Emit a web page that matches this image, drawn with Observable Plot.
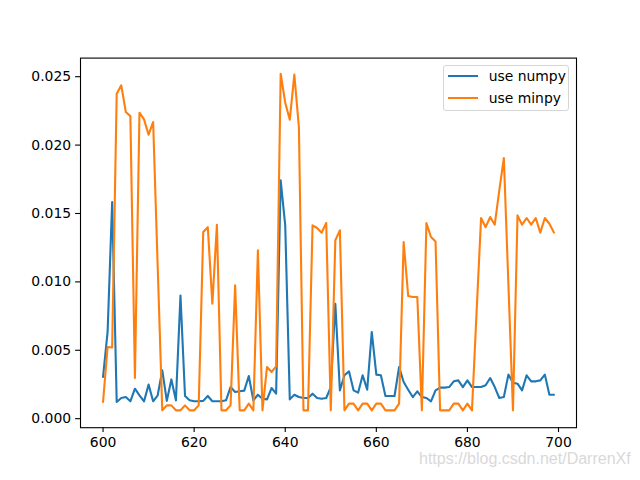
<!DOCTYPE html>
<html>
<head>
<meta charset="utf-8">
<script src="https://cdn.jsdelivr.net/npm/d3@7"></script>
<script src="https://cdn.jsdelivr.net/npm/@observablehq/plot@0.6"></script>
<style>
  body { margin: 0; background: white; }
  #wrap { position: relative; width: 640px; height: 480px; font-family: "DejaVu Sans", sans-serif; }
  #legend { position: absolute; left: 442.7px; top: 65.3px; width: 126.6px; height: 46px; box-sizing: border-box;
            border: 1px solid #d6d6d6; border-radius: 3px; background: rgba(255,255,255,0.8); }
  .lg-line { position: absolute; left: 4px; width: 30px; height: 2px; }
  .lg-text { position: absolute; left: 45px; font-size: 13.9px; line-height: 16px; color: black; white-space: nowrap; }
  #wm { position: absolute; left: 419px; top: 450px; font-family: "Liberation Sans", sans-serif; font-size: 16px; color: #d9d9d9; white-space: nowrap; }
</style>
</head>
<body>
<div id="wrap"></div>
<script>
// ---- data ----
const steps = d3.range(600, 700);
const seriesNames = ["use numpy", "use minpy"];
const seriesColors = ["#1f77b4", "#ff7f0e"];
const numpyTimes = [
  0.00305, 0.00634, 0.01584, 0.00122, 0.00151, 0.00158, 0.00127, 0.00219, 0.00171, 0.00127,
  0.00249, 0.00127, 0.00171, 0.00353, 0.00130, 0.00287, 0.00134, 0.00901, 0.00166, 0.00134,
  0.00127, 0.00127, 0.00130, 0.00166, 0.00127, 0.00127, 0.00127, 0.00134, 0.00231, 0.00195,
  0.00200, 0.00205, 0.00312, 0.00134, 0.00175, 0.00146, 0.00141, 0.00224, 0.00183, 0.01742,
  0.01413, 0.00141, 0.00175, 0.00158, 0.00151, 0.00151, 0.00183, 0.00151, 0.00146, 0.00151,
  0.00231, 0.00840, 0.00207, 0.00317, 0.00346, 0.00207, 0.00190, 0.00317, 0.00212, 0.00634,
  0.00322, 0.00317, 0.00166, 0.00166, 0.00166, 0.00378, 0.00268, 0.00212, 0.00158, 0.00200,
  0.00158, 0.00151, 0.00127, 0.00207, 0.00227, 0.00227, 0.00231, 0.00273, 0.00280, 0.00231,
  0.00280, 0.00231, 0.00231, 0.00231, 0.00244, 0.00297, 0.00231, 0.00151, 0.00158, 0.00322,
  0.00263, 0.00256, 0.00207, 0.00317, 0.00273, 0.00273, 0.00280, 0.00322, 0.00175, 0.00175
];
const minpyTimes = [
  0.00122, 0.00524, 0.00520, 0.02376, 0.02437, 0.02242, 0.02212, 0.00297, 0.02237, 0.02188,
  0.02076, 0.02169, 0.01110, 0.00061, 0.00097, 0.00097, 0.00061, 0.00061, 0.00097, 0.00061,
  0.00061, 0.00097, 0.01365, 0.01400, 0.00840, 0.01418, 0.00061, 0.00061, 0.00097, 0.00975,
  0.00061, 0.00061, 0.00110, 0.00061, 0.01230, 0.00061, 0.00378, 0.00341, 0.00383, 0.02522,
  0.02310, 0.02186, 0.02515, 0.02132, 0.00061, 0.00061, 0.01413, 0.01394, 0.01360, 0.01430,
  0.00061, 0.01304, 0.01377, 0.00061, 0.00110, 0.00110, 0.00061, 0.00110, 0.00110, 0.00061,
  0.00110, 0.00110, 0.00061, 0.00061, 0.00061, 0.00110, 0.01291, 0.00897, 0.00890, 0.00890,
  0.00061, 0.01430, 0.01328, 0.01296, 0.00061, 0.00061, 0.00061, 0.00110, 0.00110, 0.00061,
  0.00110, 0.00061, 0.00770, 0.01467, 0.01400, 0.01474, 0.01418, 0.01669, 0.01906, 0.00980,
  0.00061, 0.01486, 0.01418, 0.01467, 0.01418, 0.01467, 0.01360, 0.01467, 0.01425, 0.01360
];
const xTicks = [600, 620, 640, 660, 680, 700];
const yTicks = [0, 0.005, 0.010, 0.015, 0.020, 0.025];
const watermark = "https://blog.csdn.net/DarrenXf";

// ---- build ----
const numpyData = steps.map((s, i) => ({step: s, t: numpyTimes[i]}));
const minpyData = steps.map((s, i) => ({step: s, t: minpyTimes[i]}));

const chart = Plot.plot({
  width: 640,
  height: 480,
  marginLeft: 80,
  marginRight: 64,
  marginTop: 57.6,
  marginBottom: 52.8,
  style: "font-family: 'DejaVu Sans', sans-serif; font-size: 13.9px; color: black; background: white; overflow: visible;",
  x: {domain: [595.05, 703.95]},
  y: {domain: [-0.00066, 0.02636]},
  marks: [
    Plot.line(numpyData, {x: "step", y: "t", stroke: seriesColors[0], strokeWidth: 2.1}),
    Plot.line(minpyData, {x: "step", y: "t", stroke: seriesColors[1], strokeWidth: 2.1}),
    Plot.frame({stroke: "black", strokeWidth: 1.1}),
    Plot.axisX({ticks: xTicks, tickFormat: d => String(d), tickSize: 4.9, tickPadding: 4.5, label: null, fontSize: 13.9, strokeWidth: 1.1}),
    Plot.axisY({ticks: yTicks, tickFormat: d3.format(".3f"), tickSize: 4.9, tickPadding: 4.5, label: null, fontSize: 13.9, strokeWidth: 1.1})
  ]
});

const wrap = document.getElementById("wrap");
wrap.appendChild(chart);

// legend
const legend = document.createElement("div");
legend.id = "legend";
const rowY = [10, 31.7];
seriesNames.forEach((name, i) => {
  const ln = document.createElement("div");
  ln.className = "lg-line";
  ln.style.top = (rowY[i] - 1) + "px";
  ln.style.background = seriesColors[i];
  legend.appendChild(ln);
  const tx = document.createElement("div");
  tx.className = "lg-text";
  tx.style.top = (rowY[i] - 8) + "px";
  tx.textContent = name;
  legend.appendChild(tx);
});
wrap.appendChild(legend);

const wm = document.createElement("div");
wm.id = "wm";
wm.textContent = watermark;
wrap.appendChild(wm);
</script>
</body>
</html>
